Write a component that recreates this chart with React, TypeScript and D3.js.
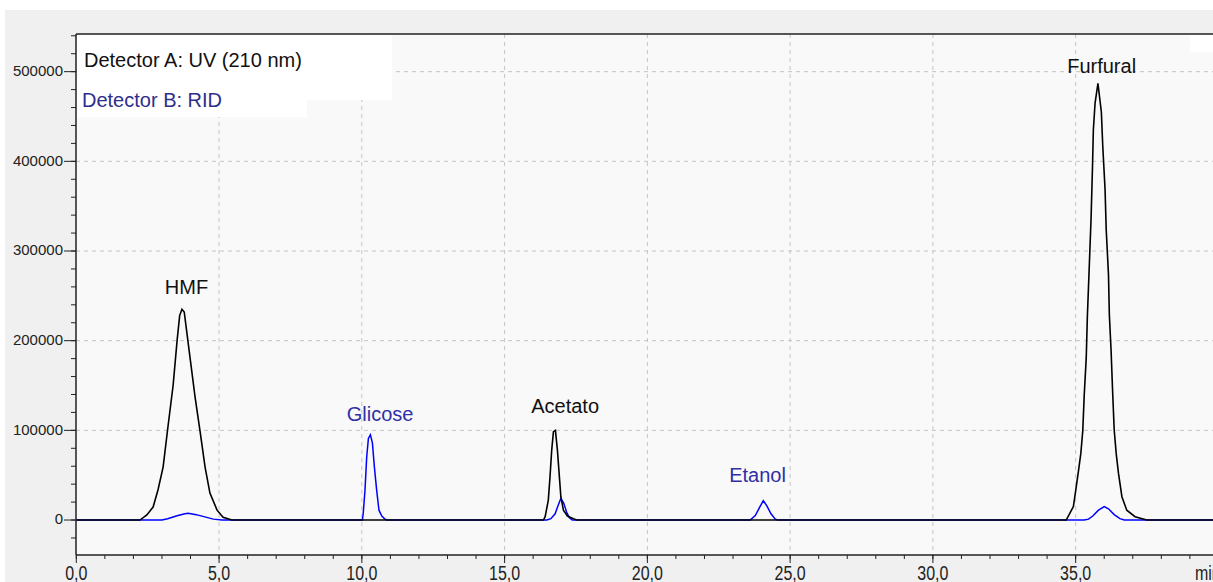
import * as d3 from 'd3';

// Detector A (UV 210 nm) – black trace, [time (min), signal]
const hmfA: [number, number][] = [
  [2.23, 0], [2.47, 5600], [2.69, 14500], [2.86, 33500], [3.04, 59000], [3.21, 104000],
  [3.39, 150000], [3.53, 200000], [3.62, 228000], [3.70, 235000], [3.78, 232000],
  [3.98, 182000], [4.16, 137000], [4.33, 100000], [4.51, 59000], [4.68, 30000],
  [4.93, 11000], [5.14, 3000], [5.45, 0],
];
const acetatoA: [number, number][] = [
  [16.36, 0], [16.42, 3700], [16.53, 22000], [16.59, 48000], [16.65, 78000], [16.71, 98500],
  [16.78, 100000], [16.85, 78000], [16.91, 52000], [16.97, 26000], [17.06, 11000],
  [17.20, 4500], [17.41, 1500], [17.53, 0],
];
const furfuralA: [number, number][] = [
  [34.67, 0], [34.92, 15000], [35.02, 37000], [35.10, 55000], [35.18, 74000], [35.25, 100000],
  [35.30, 139500], [35.37, 180500], [35.41, 227000], [35.48, 285700], [35.54, 336700],
  [35.59, 394300], [35.62, 435300], [35.68, 465000], [35.78, 487000], [35.90, 455000],
  [35.95, 416600], [36.03, 368300], [36.07, 323700], [36.15, 273400], [36.18, 228800],
  [36.24, 189700], [36.29, 147000], [36.35, 100400], [36.42, 74000], [36.50, 52000],
  [36.62, 26000], [36.79, 11000], [37.08, 3700], [37.49, 0],
];

// Detector B (RID) – blue trace
const hmfB: [number, number][] = [
  [2.30, 0], [3.0, 0], [3.2, 1500], [3.5, 4500], [3.8, 7000], [3.92, 7500], [4.2, 6000],
  [4.5, 3500], [4.8, 1000], [5.1, 0], [5.4, 0],
];
const glicoseB: [number, number][] = [
  [10.02, 0], [10.05, 7800], [10.11, 33000], [10.17, 70000], [10.23, 91000], [10.30, 95000],
  [10.37, 86000], [10.44, 59000], [10.52, 33000], [10.60, 11000], [10.70, 4500],
  [10.81, 1000], [10.87, 0],
];
const acetatoB: [number, number][] = [
  [16.48, 0], [16.62, 1500], [16.77, 7000], [16.87, 16000], [16.97, 24000], [17.07, 19000],
  [17.17, 9000], [17.27, 2500], [17.37, 0],
];
const etanolB: [number, number][] = [
  [23.60, 0], [23.78, 5000], [23.93, 14000], [24.06, 21500], [24.18, 16000], [24.33, 7000],
  [24.48, 1000], [24.56, 0],
];
const furfuralB: [number, number][] = [
  [34.6, 0], [35.3, 0], [35.45, 1000], [35.6, 4500], [35.8, 11000], [36.0, 15000],
  [36.15, 12500], [36.35, 6000], [36.55, 1500], [36.7, 0], [37.5, 0],
];

// peak labels: name, time, signal where the label sits, detector
const labelNames = ['HMF', 'Glicose', 'Acetato', 'Etanol', 'Furfural'];
const labelTimes = [3.86, 10.64, 17.12, 23.86, 35.91];
const labelSignals = [252000, 110500, 119400, 42400, 498900];
const labelDetector = ['A', 'B', 'A', 'B', 'A'];

const xMajor = [0, 5, 10, 15, 20, 25, 30, 35];
const xMinor = d3.range(0, 40, 1);
const yMajor = [0, 100000, 200000, 300000, 400000, 500000];
const yMinor = d3.range(-20000, 542000, 20000);

const W = 1213;
const H = 582;
const left = 76;
const top = 34;
const bottom = 555;

const x = d3.scaleLinear().domain([0, 39.81]).range([76.3, W]);
const y = d3.scaleLinear().domain([-39000, 542000]).range([bottom, top]);

const FONT = 'Liberation Sans, Arial, sans-serif';
const BLUE_TEXT = '#2f2fa6';

export default function App() {
  const line = d3.line<[number, number]>()
    .x(d => x(d[0]))
    .y(d => y(d[1]));

  const end = x.domain()[1];
  const traceA: [number, number][] = [[0, 0], ...hmfA, ...acetatoA, ...furfuralA, [end, 0]];
  const traceB: [number, number][] = [[0, 0], ...hmfB, ...glicoseB, ...acetatoB, ...etanolB, ...furfuralB, [end, 0]];

  return (
    <svg width={W} height={H} style={{ position: 'absolute', left: 0, top: 0, fontFamily: FONT }}>
      <rect x={0} y={0} width={W} height={H} fill="#ffffff" />
      <rect x={5} y={10} width={W - 5} height={H - 10} fill="#f0f0f0" />
      <rect x={left} y={top} width={W - left} height={bottom - top} fill="#f9f9f9" />

      {/* grid */}
      {xMajor.filter(v => v > 0).map(v => (
        <line key={'gx' + v} x1={x(v)} x2={x(v)} y1={top} y2={bottom}
          stroke="#c4c4c4" strokeDasharray="4,4" />
      ))}
      {yMajor.filter(v => v > 0).map(v => (
        <line key={'gy' + v} x1={left} x2={W} y1={y(v)} y2={y(v)}
          stroke="#c4c4c4" strokeDasharray="4,4" />
      ))}

      {/* legend background */}
      <rect x={77} y={35} width={315} height={65} fill="#ffffff" />
      <rect x={77} y={100} width={230} height={17} fill="#ffffff" />
      <rect x={1190} y={35} width={23} height={17} fill="#ffffff" />

      {/* traces */}
      <path d={line(traceB) || ''} fill="none" stroke="#0000ff" strokeWidth={1.5} />
      <path d={line(traceA) || ''} fill="none" stroke="#000000" strokeWidth={1.6} />

      {/* axes */}
      <line x1={left} x2={W} y1={top} y2={top} stroke="#222" strokeWidth={1.5} />
      <line x1={left} x2={left} y1={top} y2={bottom} stroke="#222" strokeWidth={1.5} />
      <line x1={left} x2={W} y1={bottom} y2={bottom} stroke="#222" strokeWidth={1.5} />

      {yMinor.map(v => (
        <line key={'ym' + v} x1={left - 5} x2={left} y1={y(v)} y2={y(v)} stroke="#222" />
      ))}
      {yMajor.map(v => (
        <g key={'yM' + v}>
          <line x1={left - 12} x2={left} y1={y(v)} y2={y(v)} stroke="#222" />
          <text x={63} y={y(v) - 1} dy="0.35em" textAnchor="end" fontSize={15} fill="#222">{v}</text>
        </g>
      ))}

      {xMinor.map(v => (
        <line key={'xm' + v} x1={x(v)} x2={x(v)} y1={bottom} y2={bottom + 4} stroke="#222" />
      ))}
      {xMajor.map(v => (
        <g key={'xM' + v}>
          <line x1={x(v)} x2={x(v)} y1={bottom} y2={bottom + 8} stroke="#222" />
          <text transform={`translate(${x(v)},580) scale(1,1.3)`} textAnchor="middle" fontSize={16} fill="#222">
            {v.toFixed(1).replace('.', ',')}
          </text>
        </g>
      ))}
      <text transform="translate(1195,580) scale(1,1.3)" fontSize={16} fill="#222">min</text>

      {/* peak labels */}
      {labelNames.map((name, i) => (
        <text key={name} x={x(labelTimes[i])} y={y(labelSignals[i])} textAnchor="middle"
          fontSize={20} fill={labelDetector[i] === 'A' ? '#111' : BLUE_TEXT}>
          {name}
        </text>
      ))}

      {/* legend */}
      <text x={84} y={67} fontSize={20} fill="#111">Detector A: UV (210 nm)</text>
      <text x={82} y={107} fontSize={20} fill="#2e2e8c">Detector B: RID</text>
    </svg>
  );
}
